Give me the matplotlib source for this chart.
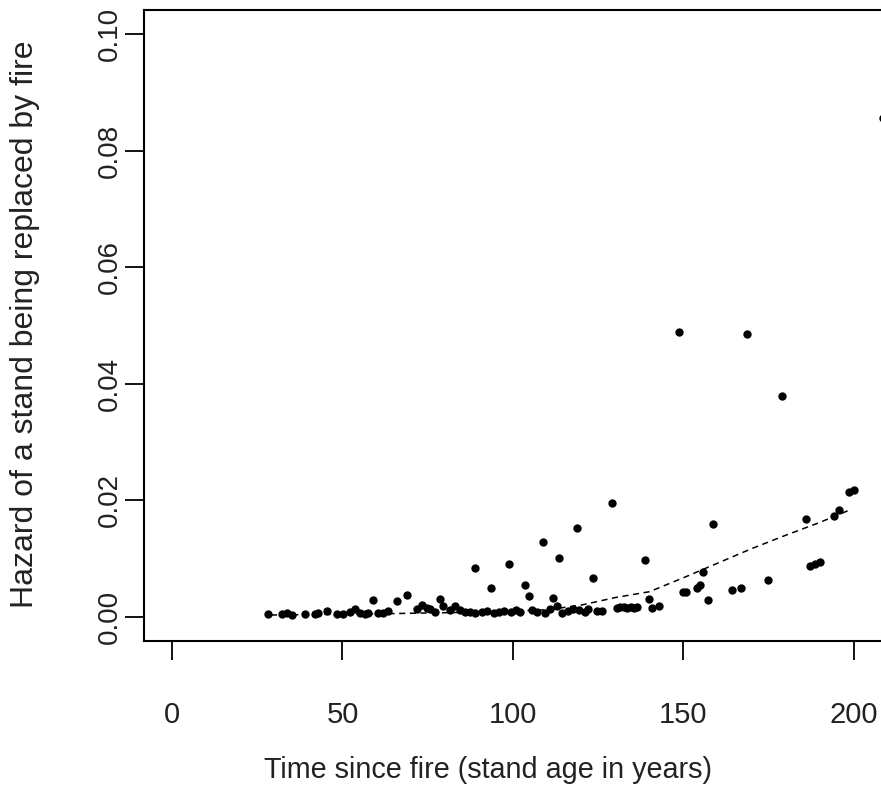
import matplotlib
matplotlib.use("Agg")
import matplotlib.pyplot as plt

plt.rcParams["font.family"] = ["Liberation Sans", "DejaVu Sans"]

# stand age (years) and hazard estimates
age = [28.2, 32.2, 33.6, 35.1, 39.0, 41.9, 42.9, 45.4, 48.3, 50.3, 52.2, 53.7,
       55.1, 56.6, 57.6, 59.0, 60.5, 62.0, 63.4, 65.9, 68.8, 71.8, 73.3, 74.7,
       75.7, 77.1, 78.6, 79.6, 81.5, 83.0, 84.5, 85.9,
       87.5, 89.0, 88.9, 91.0, 92.5, 93.6, 94.5, 96.0, 97.5, 98.9, 99.5, 101.0,
       102.0, 103.6, 104.8, 105.5, 107.0, 108.9, 109.5, 111.0, 111.8, 112.8,
       113.4, 114.5, 116.0, 117.5, 118.8, 119.5, 121.0, 122.0, 123.5, 124.6,
       126.0, 128.9, 130.5, 131.5, 132.5, 133.5, 134.5, 135.5, 136.5, 138.7,
       139.8, 140.7, 142.9,
       148.8, 149.8, 150.7, 154.0, 154.8, 155.8, 157.1, 158.7, 164.1, 167.0,
       168.7, 174.7, 178.8, 185.8, 187.0, 188.6, 190.0, 194.1, 195.7, 198.6,
       200.0, 208.5]
hazard = [0.0005, 0.0004, 0.0006, 0.0003, 0.0005, 0.0004, 0.0007, 0.0010,
          0.0005, 0.0005, 0.0008, 0.0013, 0.0006, 0.0004, 0.0007, 0.0029,
          0.0006, 0.0007, 0.0010, 0.0027, 0.0038, 0.0013, 0.0021, 0.0015,
          0.0013, 0.0008, 0.0030, 0.0018, 0.0012, 0.0018, 0.0012, 0.0009,
          0.0008, 0.0006, 0.0084, 0.0008, 0.0010, 0.0050, 0.0007, 0.0008,
          0.0010, 0.0091, 0.0009, 0.0012, 0.0008, 0.0054, 0.0036, 0.0011,
          0.0009, 0.0129, 0.0007, 0.0013, 0.0033, 0.0018, 0.0101, 0.0006,
          0.0010, 0.0014, 0.0153, 0.0011, 0.0008, 0.0013, 0.0067, 0.0010,
          0.0010, 0.0195, 0.0015, 0.0016, 0.0016, 0.0015, 0.0016, 0.0015,
          0.0016, 0.0098, 0.0030, 0.0015, 0.0019,
          0.0489, 0.0042, 0.0042, 0.0049, 0.0054, 0.0077, 0.0028, 0.0160,
          0.0046, 0.0049, 0.0486, 0.0063, 0.0379, 0.0167, 0.0087, 0.0090,
          0.0094, 0.0173, 0.0184, 0.0214, 0.0218, 0.0857]

# smoothed trend (dashed line)
trend_age = [29, 60, 90, 110, 120, 130, 140, 150, 160, 170, 180, 190, 199]
trend_haz = [0.0003, 0.0005, 0.0008, 0.0012, 0.0020, 0.0033, 0.0043, 0.0067,
             0.0092, 0.0117, 0.0140, 0.0162, 0.0184]

xticks = [0, 50, 100, 150, 200]
yticks = [0.00, 0.02, 0.04, 0.06, 0.08, 0.10]

W, H = 881, 790
fig = plt.figure(figsize=(W / 100, H / 100), dpi=100)
ax = fig.add_axes([144 / W, (H - 641) / H, (899 - 144) / W, 631 / H])

ax.plot(trend_age, trend_haz, color="black", lw=1.1, ls=(0, (4, 3)))
ax.plot(age, hazard, "o", color="black", ms=6, mew=0, clip_on=False)

ax.set_xlim(-8.2, 213.2)
ax.set_ylim(-0.00416, 0.10416)
ax.set_xticks(xticks)
ax.set_xticklabels([str(t) for t in xticks], fontsize=21)
ax.set_yticks(yticks)
ax.set_yticklabels(["%.2f" % t for t in yticks], rotation=90, va="center",
                   fontsize=20)

for s in ax.spines.values():
    s.set_linewidth(1.5)
ax.tick_params(direction="out", length=14, width=1.3,
               colors="black", labelcolor="#222222")
ax.tick_params(axis="x", pad=29)
ax.tick_params(axis="y", pad=1.5)

fig.text(488 / W, 1 - 770 / H, "Time since fire (stand age in years)",
         ha="center", va="center", fontsize=20.7, color="#222222")
fig.text(25 / W, 1 - 324 / H, "Hazard of a stand being replaced by fire",
         ha="center", va="center", rotation=90, fontsize=23, color="#222222")

fig.savefig("out.png", dpi=100)
